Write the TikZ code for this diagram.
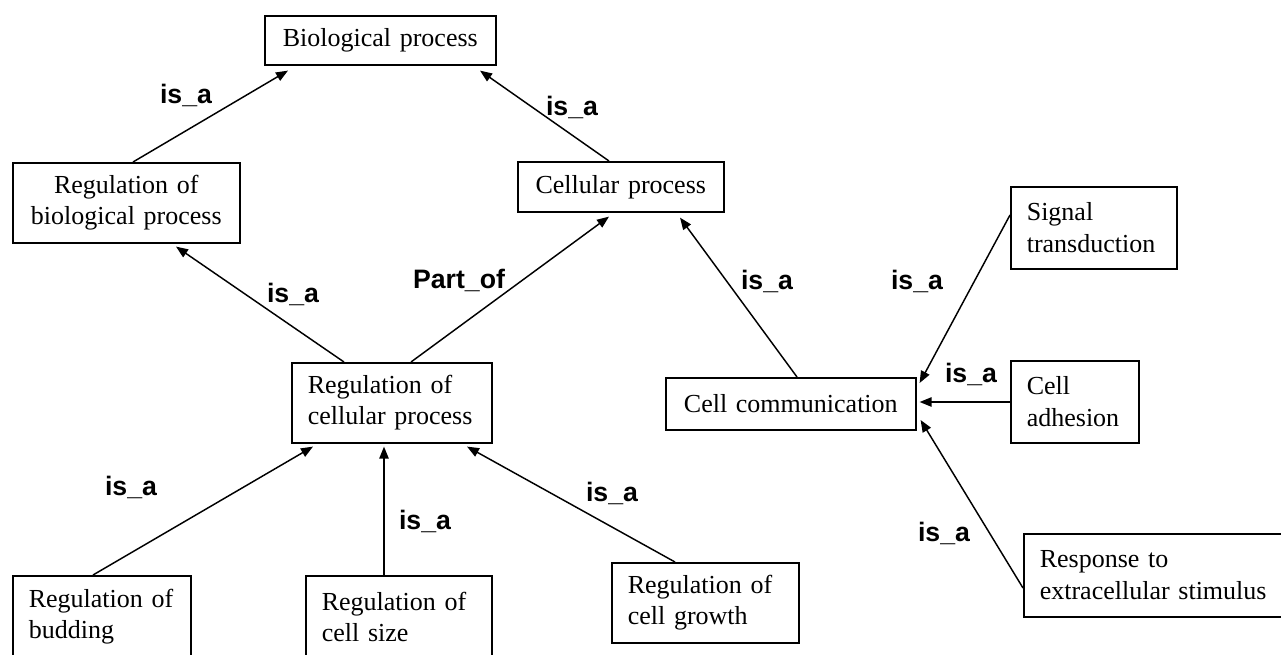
\documentclass[tikz,border=0pt]{standalone}
\usepackage{fontspec}
\setmainfont{Liberation Serif}
\newfontfamily\lblfont{Liberation Sans}
\usetikzlibrary{arrows.meta}
\tikzset{
  box/.style={draw=black, line width=1.2pt, rectangle, anchor=north west, inner xsep=12pt, inner ysep=0pt,
    font=\fontsize{19.5pt}{23.6pt}\selectfont, align=left},
  cbox/.style={box, align=center},
  conn/.style={draw=black, line width=1.1pt, -{Triangle[length=9pt,width=7pt]}},
  lbl/.style={font=\lblfont\bfseries\fontsize{20pt}{24pt}\selectfont, inner sep=0pt}
}
\begin{document}
\begin{tikzpicture}[x=0.75pt,y=-0.75pt]
\useasboundingbox[fill=white] (0,0) rectangle (1281,654);
% boxes
\node[cbox, minimum width=173.25pt, minimum height=36.75pt, text width=149.25pt] (A) at (264,15) {Biological process};
\node[cbox, minimum width=170.25pt, minimum height=60pt, text width=146.25pt] (B) at (12,162) {Regulation of\\biological process};
\node[cbox, minimum width=154.5pt, minimum height=37.5pt, text width=130.5pt] (C) at (517,161) {Cellular process};
\node[box, minimum width=124.5pt, minimum height=61.5pt, text width=100.5pt] (D) at (1010,186) {Signal\\transduction};
\node[box, minimum width=150pt, minimum height=60pt, text width=126pt] (E) at (291,362) {Regulation of\\cellular process};
\node[cbox, minimum width=187.5pt, minimum height=39pt, text width=163.5pt] (F) at (665,377) {Cell communication};
\node[box, minimum width=96pt, minimum height=61.5pt, text width=72pt] (G) at (1010,360) {Cell\\adhesion};
\node[box, minimum width=195.75pt, minimum height=62.25pt, text width=171.75pt] (H) at (1023,533) {Response to\\extracellular stimulus};
\node[box, minimum width=133.5pt, minimum height=61.5pt, text width=109.5pt] (I) at (12,575) {Regulation of\\budding};
\node[box, minimum width=139.5pt, minimum height=61.5pt, text width=115.5pt] (J) at (305,575) {Regulation of\\cell size};
\node[box, minimum width=140.25pt, minimum height=60pt, text width=116.25pt] (K) at (611,562) {Regulation of\\cell growth};
% connectors
\draw[conn] ([xshift=90.75pt]B.north west) -- ([xshift=18pt,yshift=-3.75pt]A.south west);
\draw[conn] ([xshift=69pt]C.north west) -- ([xshift=162pt,yshift=-3.75pt]A.south west);
\draw[conn] ([xshift=39.75pt]E.north west) -- ([xshift=123pt,yshift=-2.25pt]B.south west);
\draw[conn] ([xshift=90pt]E.north west) -- ([xshift=69pt,yshift=-3pt]C.south west);
\draw[conn] ([xshift=99pt]F.north west) -- ([xshift=122.25pt,yshift=-3.75pt]C.south west);
\draw[conn] ([yshift=-21.75pt]D.north west) -- ([xshift=2.25pt,yshift=-4.5pt]F.north east);
\draw[conn] ([yshift=-31.5pt]G.north west) -- ([xshift=2.25pt,yshift=-18.75pt]F.north east);
\draw[conn] ([yshift=-41.25pt]H.north west) -- ([xshift=3pt,yshift=-32.25pt]F.north east);
\draw[conn] ([xshift=60.75pt]I.north west) -- ([xshift=16.5pt,yshift=-2.25pt]E.south west);
\draw[conn] ([xshift=59.25pt]J.north west) -- ([xshift=69.75pt,yshift=-2.25pt]E.south west);
\draw[conn] ([xshift=48pt]K.north west) -- ([xshift=132pt,yshift=-2.25pt]E.south west);
% labels
\node[lbl] (l1) at (186,95) {is\_a};
\node[lbl] (l2) at (572,107) {is\_a};
\node[lbl] (l3) at (293,294) {is\_a};
\node[lbl] (l4) at (459,280) {Part\_of};
\node[lbl] (l5) at (767,281) {is\_a};
\node[lbl] (l6) at (917,281) {is\_a};
\node[lbl] (l7) at (971,374) {is\_a};
\node[lbl] (l8) at (944,533) {is\_a};
\node[lbl] (l9) at (131,487) {is\_a};
\node[lbl] (l10) at (425,521) {is\_a};
\node[lbl] (l11) at (612,493) {is\_a};
\end{tikzpicture}
\end{document}
